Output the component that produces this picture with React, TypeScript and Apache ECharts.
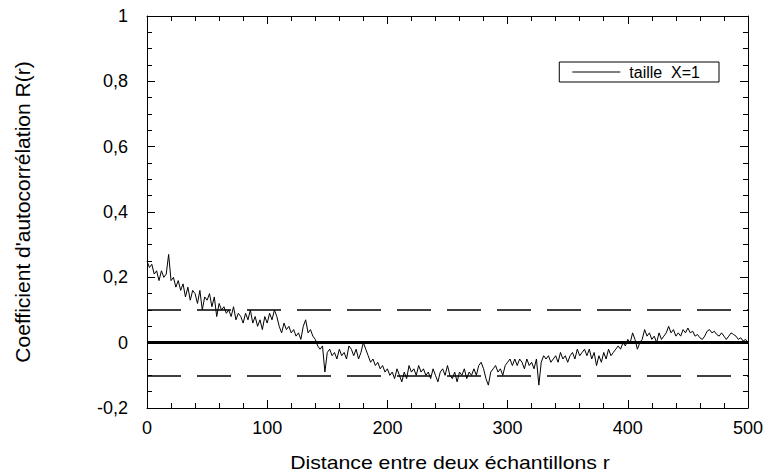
import React, { useEffect, useRef } from "react";
import * as echarts from "echarts";

// Autocorrelation values R(r), sampled every 2 units of r (r = 0 .. 500)
const STEP = 2;
const rValues: number[] = [
  0.25, 0.23, 0.24, 0.21, 0.22, 0.19, 0.22, 0.2, 0.21, 0.27,
  0.19, 0.2, 0.17, 0.19, 0.16, 0.18, 0.14, 0.17, 0.13, 0.16,
  0.15, 0.12, 0.16, 0.1, 0.14, 0.13, 0.15, 0.11, 0.14, 0.08,
  0.12, 0.1, 0.11, 0.09, 0.1, 0.08, 0.11, 0.07, 0.09, 0.08,
  0.06, 0.09, 0.07, 0.1, 0.06, 0.08, 0.05, 0.07, 0.04, 0.08,
  0.06, 0.09, 0.07, 0.1, 0.08, 0.05, 0.03, 0.06, 0.04, 0.05,
  0.03, 0.04, 0.02, 0.03, 0.01, 0.05, 0.07, 0.03, 0.04, 0.02,
  0.01, -0.01, -0.02, -0.01, -0.09, -0.03, -0.02, -0.04, -0.03, -0.05,
  -0.02, -0.04, -0.03, -0.05, -0.01, -0.02, -0.04, -0.02, -0.05, -0.03,
  0.0, -0.02, -0.04, -0.06, -0.05, -0.07, -0.06, -0.08, -0.07, -0.09,
  -0.08, -0.1, -0.09, -0.11, -0.08, -0.1, -0.12, -0.09, -0.11, -0.07,
  -0.09, -0.08, -0.1, -0.07, -0.09, -0.08, -0.1, -0.09, -0.11, -0.08,
  -0.1, -0.12, -0.09, -0.08, -0.1, -0.07, -0.1, -0.11, -0.09, -0.12,
  -0.09, -0.1, -0.08, -0.11, -0.09, -0.1, -0.08, -0.1, -0.07, -0.06,
  -0.08, -0.11, -0.13, -0.09, -0.08, -0.07, -0.09, -0.08, -0.1, -0.07,
  -0.06, -0.05, -0.07, -0.05, -0.07, -0.05, -0.06, -0.08, -0.05, -0.07,
  -0.06, -0.08, -0.05, -0.13, -0.06, -0.04, -0.05, -0.04, -0.06, -0.05,
  -0.04, -0.06, -0.03, -0.05, -0.04, -0.06, -0.04, -0.03, -0.05, -0.02,
  -0.04, -0.03, -0.02, -0.04, -0.02, -0.05, -0.03, -0.07, -0.04, -0.06,
  -0.03, -0.05, -0.02, -0.04, -0.03, -0.02, -0.01, -0.02, 0.0, -0.01,
  0.01, 0.0, 0.03, 0.01, -0.02, 0.0, 0.01, 0.04, 0.02, 0.03,
  0.01, 0.02, 0.0, 0.03, 0.01, 0.02, 0.03, 0.05, 0.03, 0.04,
  0.02, 0.03, 0.02, 0.04, 0.03, 0.045, 0.03, 0.035, 0.02, 0.025,
  0.015, 0.01, 0.02, 0.035, 0.04, 0.03, 0.035, 0.025, 0.02, 0.03,
  0.02, 0.01, 0.02, 0.03, 0.025, 0.02, 0.01, 0.015, 0.005, 0.01,
  0.0,
];

const SERIES_NAME = "taille  X=1";
const CONFIDENCE = [0.1, -0.1];
const X_TITLE = "Distance entre deux échantillons r";
const Y_TITLE = "Coefficient d'autocorrélation R(r)";

const FONT = "'Liberation Sans', Arial, Helvetica, sans-serif";

export default function App() {
  const ref = useRef<HTMLDivElement>(null);

  useEffect(() => {
    if (!ref.current) return;
    const chart = echarts.init(ref.current, null, { renderer: "svg" });
    const data = rValues.map((v, i) => [i * STEP, v]);

    const fmtY = (v: number) => {
      const r = Math.round(v * 10) / 10;
      return String(r).replace(".", ",");
    };

    const axisCommon = {
      axisLine: { show: true, onZero: false, lineStyle: { color: "#000", width: 1 } },
      axisTick: { show: true, inside: true, length: 8, lineStyle: { color: "#000" } },
      splitLine: { show: false },
    };

    chart.setOption({
      animation: false,
      backgroundColor: "#fff",
      grid: { left: 147, right: 14, top: 16, bottom: 68, containLabel: false },
      legend: {
        data: [{ name: SERIES_NAME, icon: "rect" }],
        right: 47,
        top: 62,
        orient: "horizontal",
        borderColor: "#000",
        borderWidth: 1,
        borderRadius: 0,
        padding: [2, 19, 2, 13],
        itemWidth: 48,
        itemHeight: 1,
        itemGap: 10,
        textStyle: { fontFamily: FONT, fontSize: 16, color: "#000", padding: [0, 0, 0, 4] },
      },
      xAxis: [
        {
          type: "value",
          min: 0,
          max: 500,
          interval: 100,
          position: "bottom",
          ...axisCommon,
          minorTick: { show: true, splitNumber: 5, length: 5, lineStyle: { color: "#000" } },
          axisLabel: { fontFamily: FONT, fontSize: 18, color: "#000", margin: 11 },
        },
        {
          type: "value",
          min: 0,
          max: 500,
          interval: 100,
          position: "top",
          ...axisCommon,
          minorTick: { show: true, splitNumber: 5, length: 5, lineStyle: { color: "#000" } },
          axisLabel: { show: false },
        },
      ],
      yAxis: [
        {
          type: "value",
          min: -0.2,
          max: 1,
          interval: 0.2,
          position: "left",
          ...axisCommon,
          minorTick: { show: true, splitNumber: 4, length: 5, lineStyle: { color: "#000" } },
          axisLabel: { fontFamily: FONT, fontSize: 18, color: "#000", margin: 19, formatter: fmtY },
          name: Y_TITLE,
          nameLocation: "middle",
          nameGap: 114,
          nameRotate: 90,
          nameTextStyle: { fontFamily: FONT, fontSize: 21, color: "#000" },
        },
        {
          type: "value",
          min: -0.2,
          max: 1,
          interval: 0.2,
          position: "right",
          ...axisCommon,
          minorTick: { show: true, splitNumber: 4, length: 5, lineStyle: { color: "#000" } },
          axisLabel: { show: false },
        },
      ],
      graphic: [
        {
          type: "text",
          x: 450,
          y: 463,
          scaleX: 1.18,
          style: {
            text: X_TITLE,
            x: 0,
            y: 0,
            align: "center",
            verticalAlign: "middle",
            font: `18px ${FONT}`,
            fill: "#000",
          },
        },
      ],
      series: [
        {
          name: SERIES_NAME,
          type: "line",
          xAxisIndex: 0,
          yAxisIndex: 0,
          data,
          symbol: "none",
          showSymbol: false,
          lineStyle: { color: "#000", width: 1 },
          itemStyle: { color: "#000" },
          markLine: {
            silent: true,
            symbol: ["none", "none"],
            label: { show: false },
            data: [
              ...CONFIDENCE.map((c) => ({
                yAxis: c,
                lineStyle: { color: "#000", width: 1.5, type: [34, 16] },
              })),
              { yAxis: 0, lineStyle: { color: "#000", width: 3, type: "solid" } },
            ],
          },
        },
      ],
    });

    return () => chart.dispose();
  }, []);

  return (
    <div
      ref={ref}
      style={{ position: "fixed", left: 0, top: 0, width: 766, height: 476 }}
    />
  );
}
